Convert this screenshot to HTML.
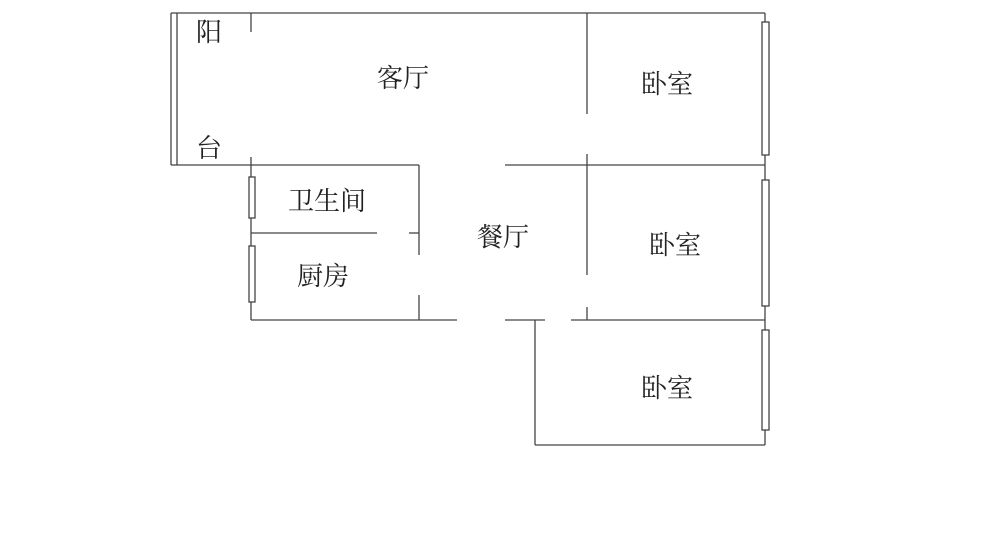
<!DOCTYPE html><html><head><meta charset="utf-8"><style>body{margin:0;background:#fff}svg{display:block}text{font-family:"Liberation Serif","Noto Serif CJK SC",serif;font-size:26px;fill:#222}</style></head><body>
<svg width="1000" height="544" viewBox="0 0 1000 544">
<g stroke="#444" stroke-width="1.3" fill="none">
<line x1="171" y1="13" x2="765" y2="13"/>
<line x1="171" y1="13" x2="171" y2="165"/>
<line x1="177" y1="13" x2="177" y2="165"/>
<line x1="171" y1="165" x2="419" y2="165"/>
<line x1="251" y1="13" x2="251" y2="32"/>
<line x1="251" y1="157" x2="251" y2="320"/>
<line x1="251" y1="233" x2="377" y2="233"/>
<line x1="409" y1="233" x2="419" y2="233"/>
<line x1="419" y1="165" x2="419" y2="255"/>
<line x1="419" y1="295" x2="419" y2="320"/>
<line x1="251" y1="320" x2="457" y2="320"/>
<line x1="505" y1="320" x2="545" y2="320"/>
<line x1="571" y1="320" x2="765" y2="320"/>
<line x1="505" y1="165" x2="765" y2="165"/>
<line x1="587" y1="13" x2="587" y2="114"/>
<line x1="587" y1="154" x2="587" y2="275"/>
<line x1="587" y1="307" x2="587" y2="320"/>
<line x1="535" y1="320" x2="535" y2="445"/>
<line x1="535" y1="445" x2="765" y2="445"/>
<line x1="765" y1="13" x2="765" y2="445"/>
</g>
<g stroke="#444" stroke-width="1.3" fill="#fff">
<rect x="249" y="177" width="6" height="41"/>
<rect x="249" y="246" width="6" height="56"/>
<rect x="762" y="22" width="7" height="133"/>
<rect x="762" y="180" width="7" height="126"/>
<rect x="762" y="330" width="7" height="100"/>
</g>
<text x="196" y="41">阳</text>
<text x="196" y="157">台</text>
<text x="377" y="87">客厅</text>
<text x="641" y="93">卧室</text>
<text x="288" y="210">卫生间</text>
<text x="297" y="285">厨房</text>
<text x="477" y="246">餐厅</text>
<text x="649" y="254">卧室</text>
<text x="641" y="397">卧室</text>
</svg></body></html>
